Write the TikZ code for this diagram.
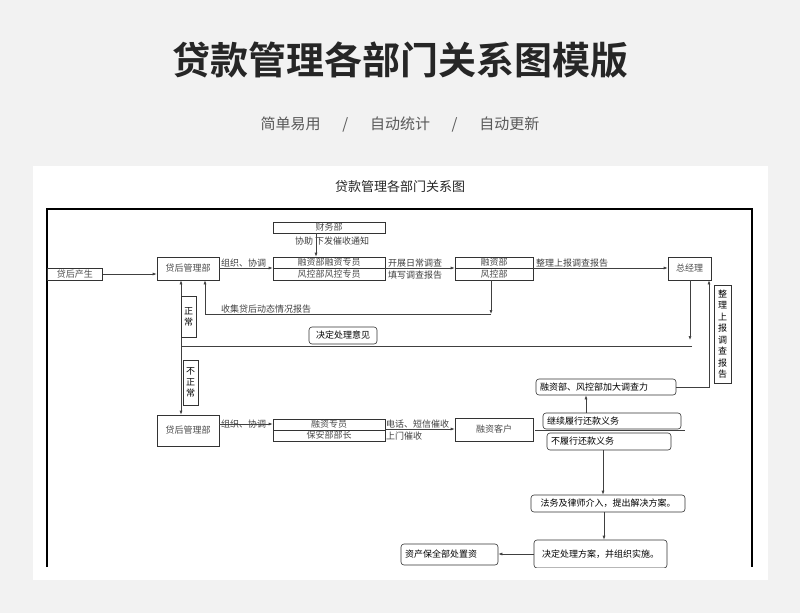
\documentclass[tikz,border=0pt]{standalone}
\usepackage{fontspec}
\setmainfont{Noto Sans CJK SC}
\newfontfamily\cjkb{Noto Sans CJK SC Bold}
\usetikzlibrary{arrows.meta}
\begin{document}
\begin{tikzpicture}[x=1pt,y=-1pt,
  bx/.style={draw=black!80,line width=0.6pt,inner sep=0pt,font=\fontsize{9}{9}\selectfont,text=black!70},
  rb/.style={bx,rounded corners=3pt,text=black,font=\fontsize{9}{9}\selectfont},
  rbl/.style={rb,align=left,inner xsep=4pt},
  lb/.style={inner sep=0pt,font=\fontsize{9}{9}\selectfont,text=black!75},
  ar/.style={draw=black!75,line width=0.6pt,-{Latex[length=4pt,width=3pt]}},
  ln/.style={draw=black!75,line width=0.6pt}]
\fill[black!5] (0,0) rectangle (800,613);
\useasboundingbox (0,0) rectangle (800,613);
\node[font=\cjkb\fontsize{38}{40}\selectfont,text=black!85] (title) at (400,60) {贷款管理各部门关系图模版};
\node[font=\fontsize{15}{16}\selectfont,text=black!65] (sub) at (400,125) {简单易用\quad\ \ /\quad\ \ 自动统计\quad\ \ /\quad\ \ 自动更新};
\fill[white] (33,166) rectangle (768,580);
\node[font=\fontsize{13}{14}\selectfont,text=black!85] (dtitle) at (400,187) {贷款管理各部门关系图};
\begin{scope}
\clip (33,166) rectangle (768,567);
\draw[line width=1.2pt] (47,567) -- (47,209) -- (752,209) -- (752,567);
% top row
\node[bx,minimum width=112,minimum height=11] (cw) at (329,227.5) {财务部};
\node[lb,anchor=west] (xz) at (295,241) {协助\ 下发催收通知};
\node[bx,minimum width=55,minimum height=12,anchor=west] (dhcs) at (47,274) {贷后产生};
\node[bx,minimum width=62,minimum height=23] (gl1) at (188,268.5) {贷后管理部};
\node[bx,minimum width=112,minimum height=11] (rz1) at (329,262.5) {融资部融资专员};
\node[bx,minimum width=112,minimum height=12] (fk1) at (329,274) {风控部风控专员};
\node[bx,minimum width=78,minimum height=11] (rzb) at (494,262.5) {融资部};
\node[bx,minimum width=78,minimum height=12] (fkb) at (494,274) {风控部};
\node[bx,minimum width=43,minimum height=23] (zjl) at (689.5,268.5) {总经理};
\node[lb,anchor=west] (t1) at (221,263) {组织、协调};
\node[lb,anchor=west] (t2) at (388,263) {开展日常调查};
\node[lb,anchor=west] (t3) at (388,275) {填写调查报告};
\node[lb,anchor=west] (t4) at (536,263) {整理上报调查报告};
\node[lb,anchor=west] (t5) at (221,309) {收集贷后动态情况报告};
\draw[ar] (cw.south -| 316,0) -- (rz1.north -| 316,0);
\draw[ar] (dhcs.east) -- (gl1.west |- dhcs.east);
\draw[ar] (gl1.east |- 0,268) -- (rz1.west |- 0,268);
\draw[ar] (rz1.east |- 0,268) -- (rzb.west |- 0,268);
\draw[ar] (rzb.east |- 0,268) -- (zjl.west |- 0,268);
\coordinate (c1) at (491,314);
\coordinate (c2) at (205,314);
\draw[ar] (fkb.south -| 491,0) -- (c1);
\draw[ar] (c1) -- (c2) -- (gl1.south -| c2);
\draw[ar] (zjl.south -| 690,0) -- (690,340);
\coordinate (c3) at (692,346);
\coordinate (c4) at (181,346);
\draw[ln] (c3) -- (c4);
\node[rb,minimum width=68,minimum height=17] (jd) at (343,335.5) {决定处理意见};
\node[bx,minimum width=62,minimum height=31] (gl2) at (188,430.5) {贷后管理部};
\draw[ar] (c4) -- (gl1.south -| c4);
\draw[ar] (c4) -- (gl2.north -| c4);
\node[bx,minimum width=15,minimum height=41,font=\fontsize{9}{11}\selectfont,text=black,align=center] (zc) at (188.5,316.5) {正\\常};
\node[bx,minimum width=15,minimum height=45,font=\fontsize{9}{11}\selectfont,text=black,align=center] (bzc) at (190.5,382.5) {不\\正\\常};
\node[bx,minimum width=17,minimum height=98,font=\fontsize{9}{11.5}\selectfont,text=black,align=center] (zlsb) at (722.5,334) {整\\理\\上\\报\\调\\查\\报\\告};
% lower
\node[rbl,text width=132,minimum height=16] (jd2) at (606,387) {融资部、风控部加大调查力};
\node[rbl,text width=130,minimum height=16] (jx) at (612,421) {继续履行还款义务};
\node[rbl,text width=116,minimum height=17] (bl) at (609,441.5) {不履行还款义务};
\draw[ln] (535,430) -- (685,430);
\draw[ar] (jx.north -| 586,0) -- (jd2.south -| 586,0);
\coordinate (c5) at (709,387);
\draw[ar] (jd2.east) -- (c5) -- (zjl.south -| c5);
\node[bx,minimum width=112,minimum height=11] (rz2) at (329,424.5) {融资专员};
\node[bx,minimum width=112,minimum height=11] (ba2) at (329,435.5) {保安部部长};
\node[bx,minimum width=78,minimum height=23] (kh) at (494,429.5) {融资客户};
\node[lb,anchor=west] (t6) at (221,424) {组织、协调};
\node[lb,anchor=west] (t7) at (386,424) {电话、短信催收};
\node[lb,anchor=west] (t8) at (386,436) {上门催收};
\draw[ar] (gl2.east |- 0,424) -- (rz2.west |- 0,424);
\draw[ar] (rz2.east |- 0,429) -- (kh.west |- 0,429);
\node[rb,minimum width=154,minimum height=17] (fw) at (608,503.5) {法务及律师介入，提出解决方案。};
\node[rb,minimum width=133,minimum height=28] (jc) at (600.5,554) {决定处理方案，并组织实施。};
\node[rbl,text width=89,minimum height=21] (zc2) at (449.5,554.5) {资产保全部处置资};
\draw[ar] (bl.south -| 603,0) -- (fw.north -| 603,0);
\draw[ar] (fw.south -| 604,0) -- (jc.north -| 604,0);
\draw[ar] (jc.west) -- (zc2.east |- jc.west);
\end{scope}
\end{tikzpicture}
\end{document}
